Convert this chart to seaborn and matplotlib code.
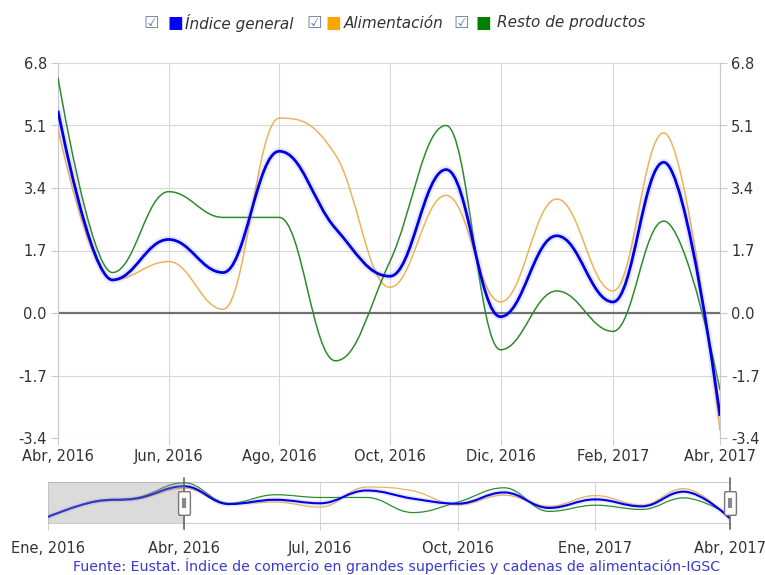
import matplotlib
matplotlib.use("Agg")
import matplotlib.pyplot as plt
import matplotlib.dates as mdates
from matplotlib.path import Path
from matplotlib.patches import PathPatch
from matplotlib.transforms import blended_transform_factory
import seaborn as sns
import pandas as pd

# monthly rates, Jan 2016 .. Apr 2017
months = pd.date_range("2016-01-01", "2017-04-01", freq="MS")
indice_general = [-2.4, 1.5, 2.4, 5.5, 0.9, 2.0, 1.1, 4.4, 2.3, 1.0, 3.9, -0.1, 2.1, 0.3, 4.1, -2.8]
alimentacion = [-2.3, 1.4, 2.2, 5.0, 0.9, 1.4, 0.1, 5.3, 4.3, 0.7, 3.2, 0.3, 3.1, 0.6, 4.9, -3.2]
resto_productos = [-2.5, 1.6, 2.6, 6.4, 1.1, 3.3, 2.6, 2.6, -1.3, 1.4, 5.1, -1.0, 0.6, -0.5, 2.5, -2.1]

series_names = ["Índice general", "Alimentación", "Resto de productos"]
y_ticks = [-3.4, -1.7, 0.0, 1.7, 3.4, 5.1, 6.8]
mes = ["Ene", "Feb", "Mar", "Abr", "May", "Jun", "Jul", "Ago", "Sep", "Oct", "Nov", "Dic"]
fuente = "Fuente: Eustat. Índice de comercio en grandes superficies y cadenas de alimentación-IGSC"

COLORS = {"Índice general": "#0000E0", "Alimentación": "#EDB358", "Resto de productos": "#2E8B2E"}
LEGEND_COLORS = {"Índice general": "#0000FF", "Alimentación": "#FFA500", "Resto de productos": "#008000"}

sns.set_theme(style="whitegrid")
plt.rcParams.update({
    "font.family": ["DejaVu Sans"],
    "axes.edgecolor": "#C8C8C8",
    "grid.color": "#D8D8D8",
    "grid.linewidth": 0.8,
    "xtick.color": "#333333",
    "ytick.color": "#333333",
})


def spline_path(xs, ys, smoothing=1.5):
    """Bezier path through the points, Highcharts 'spline' style."""
    n = len(xs)
    denom = smoothing + 1
    left, right = [None] * n, [None] * n
    for i in range(1, n - 1):
        lx, ly = xs[i - 1], ys[i - 1]
        px, py = xs[i], ys[i]
        nx, ny = xs[i + 1], ys[i + 1]
        lcx, lcy = (smoothing * px + lx) / denom, (smoothing * py + ly) / denom
        rcx, rcy = (smoothing * px + nx) / denom, (smoothing * py + ny) / denom
        if rcx != lcx:
            corr = (rcy - lcy) * (rcx - px) / (rcx - lcx) + py - rcy
            lcy += corr
            rcy += corr
        if lcy > ly and lcy > py:
            lcy = max(ly, py); rcy = 2 * py - lcy
        elif lcy < ly and lcy < py:
            lcy = min(ly, py); rcy = 2 * py - lcy
        if rcy > ny and rcy > py:
            rcy = max(ny, py); lcy = 2 * py - rcy
        elif rcy < ny and rcy < py:
            rcy = min(ny, py); lcy = 2 * py - rcy
        left[i], right[i] = (lcx, lcy), (rcx, rcy)
    verts, codes = [(xs[0], ys[0])], [Path.MOVETO]
    for i in range(1, n):
        c1 = right[i - 1] or (xs[i - 1], ys[i - 1])
        c2 = left[i] or (xs[i], ys[i])
        verts += [c1, c2, (xs[i], ys[i])]
        codes += [Path.CURVE4] * 3
    return Path(verts, codes)


def draw_series(ax, x, y, name, lw, halo):
    path = spline_path(x, y)
    if halo:
        ax.add_patch(PathPatch(path, fill=False, lw=lw * 2.6, color="#9090FF", alpha=0.2,
                               capstyle="round", zorder=3))
    ax.add_patch(PathPatch(path, fill=False, lw=lw, color=COLORS[name], zorder=4 if halo else 3))


df = pd.DataFrame({"mes": months, series_names[0]: indice_general,
                   series_names[1]: alimentacion, series_names[2]: resto_productos})
xnum = list(mdates.date2num(df["mes"]))

fig = plt.figure(figsize=(7.65, 5.75), dpi=100)
ax = fig.add_axes([58 / 765, 1 - 438 / 575, 662 / 765, 375 / 575])
nav = fig.add_axes([48 / 765, 1 - 523 / 575, 682 / 765, 41 / 575])

# main chart: Apr 2016 .. Apr 2017
main = df.iloc[3:]
xm = xnum[3:]
for name in ["Alimentación", "Resto de productos", "Índice general"]:
    draw_series(ax, xm, list(main[name]), name, 2.0 if name == "Índice general" else 1.1,
                name == "Índice general")
ax.axhline(0, color="#707070", lw=1.6, zorder=2)
ax.set_xlim(xm[0], xm[-1])
ax.set_ylim(y_ticks[0], y_ticks[-1])
ax.set_yticks(y_ticks)
ax.set_yticklabels([f"{v:.1f}" for v in y_ticks], fontsize=10.5)
xt = main["mes"].iloc[::2]
ax.set_xticks(mdates.date2num(xt))
ax.set_xticklabels([f"{mes[d.month - 1]}, {d.year}" for d in xt], fontsize=10.5)
ax.tick_params(axis="y", left=True, right=True, labelright=True, length=5, width=0.8,
               color="#C8C8C8", pad=3)
ax.tick_params(axis="x", bottom=True, length=5, width=0.8, color="#D0D0D0", pad=3)
ax.grid(True, axis="both")
for s in ["top", "bottom"]:
    ax.spines[s].set_visible(False)
for s in ["left", "right"]:
    ax.spines[s].set_color("#C8C8C8")
    ax.spines[s].set_linewidth(0.8)
ax.set_facecolor("white")

# navigator: full range
for name in ["Alimentación", "Resto de productos", "Índice general"]:
    draw_series(nav, xnum, list(df[name]), name, 1.5 if name == "Índice general" else 0.9,
                name == "Índice general")
nav.set_xlim(xnum[0], xnum[-1])
nav.set_ylim(-4.0, 6.6)
nav.set_yticks([])
nt = df["mes"].iloc[::3]
nav.set_xticks(mdates.date2num(nt))
nav.set_xticklabels([f"{mes[d.month - 1]}, {d.year}" for d in nt], fontsize=10.5)
nav.tick_params(axis="x", bottom=True, length=5, width=0.8, color="#D0D0D0", pad=8)
nav.grid(True, axis="x")
nav.grid(False, axis="y")
for s in ["left", "right"]:
    nav.spines[s].set_visible(False)
for s in ["top", "bottom"]:
    nav.spines[s].set_color("#CCCCCC")
    nav.spines[s].set_linewidth(0.8)
nav.axvspan(xnum[0], xnum[3], color="#999999", alpha=0.35, lw=0, zorder=5)
trans = blended_transform_factory(nav.transData, nav.transAxes)
handle = Path([(-0.45, -1), (0.45, -1), (0.5, -0.85), (0.5, 0.85), (0.45, 1), (-0.45, 1),
               (-0.5, 0.85), (-0.5, -0.85), (-0.45, -1)])
for xh in [xnum[3], xnum[-1]]:
    nav.plot([xh, xh], [-0.15, 1.1], transform=trans, color="#666666", lw=1.2,
             clip_on=False, zorder=6)
    nav.plot([xh], [0.5], transform=trans, marker=handle, ms=17, mfc="white", mec="#777777",
             mew=1.0, clip_on=False, zorder=7)
    nav.plot([xh], [0.5], transform=trans, marker="|", ms=7, mec="#888888", mew=3,
             clip_on=False, zorder=8)

# legend with check boxes
legend_x = [(151, 175, 185), (314, 333, 344), (461, 483, 497)]
ly = 1 - 23 / 575
for name, (cx, sx, tx) in zip(series_names, legend_x):
    fig.text(cx / 765, ly, "☑", color="#7080B0", fontsize=12.5, ha="center", va="center")
    fig.text(sx / 765, ly, "■", color=LEGEND_COLORS[name], fontsize=12, ha="center", va="center")
    fig.text(tx / 765, ly, name, color="#333333", fontsize=11, style="italic", ha="left",
             va="center")

fig.text(397 / 765, 1 - 566 / 575, fuente, color="#3A3ACC", fontsize=10.2, ha="center",
         va="center")

fig.savefig("out.png", dpi=100, facecolor="white")
